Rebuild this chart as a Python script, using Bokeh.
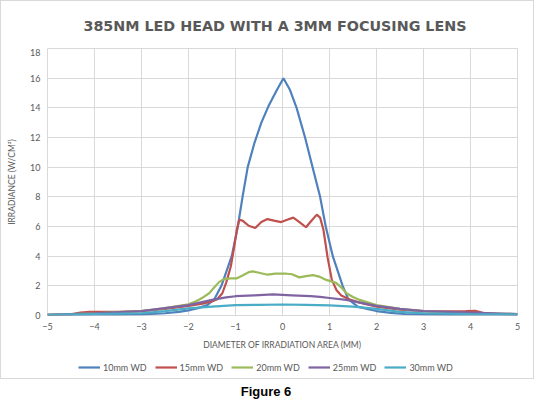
from bokeh.plotting import figure
from bokeh.layouts import column
from bokeh.models import Legend, LegendItem, FixedTicker, Div
from bokeh.embed import file_html
from bokeh.resources import INLINE

# diameter (mm) / irradiance (W/cm2), one pair per working distance
x10 = [-5, -4.5, -4, -3.5, -3, -2.5, -2.2, -2, -1.8, -1.6, -1.45, -1.3, -1.08, -0.95,
       -0.85, -0.74, -0.6, -0.45, -0.3, -0.12, 0.02, 0.16, 0.3, 0.48, 0.64, 0.8, 0.92,
       1.07, 1.28, 1.4, 1.6, 1.8, 2, 2.3, 2.6, 3, 3.5, 4, 4.5, 5]
y10 = [0.03, 0.04, 0.05, 0.05, 0.07, 0.15, 0.25, 0.35, 0.5, 0.7, 1.1, 2.0, 4.0, 6.0,
       8.0, 10.0, 11.6, 13.0, 14.1, 15.2, 16.0, 15.2, 14.0, 12.0, 10.0, 8.0, 6.0,
       4.0, 2.0, 1.1, 0.6, 0.45, 0.3, 0.18, 0.1, 0.07, 0.05, 0.05, 0.05, 0.05]

x15 = [-5, -4.5, -4.3, -4.1, -3.5, -3, -2.5, -2, -1.7, -1.5, -1.39, -1.28, -1.2, -1.1,
       -1.03, -0.97, -0.92, -0.85, -0.72, -0.58, -0.45, -0.32, -0.18, -0.03, 0.1, 0.23,
       0.36, 0.5, 0.62, 0.73, 0.8, 0.87, 0.96, 1.05, 1.15, 1.25, 1.42, 1.6, 2, 2.5, 3,
       3.5, 3.9, 4.1, 4.3, 4.6, 5]
y15 = [0.05, 0.08, 0.2, 0.25, 0.25, 0.3, 0.45, 0.65, 0.8, 0.95, 1.1, 1.5, 2.2, 3.3,
       4.6, 5.8, 6.45, 6.4, 6.05, 5.9, 6.3, 6.5, 6.4, 6.3, 6.45, 6.6,
       6.3, 5.95, 6.4, 6.8, 6.6, 5.8, 3.9, 2.4, 1.7, 1.35, 1.1, 0.9, 0.6, 0.4, 0.3,
       0.28, 0.3, 0.32, 0.15, 0.1, 0.08]

x20 = [-5, -4, -3, -2.5, -2, -1.85, -1.7, -1.56, -1.45, -1.35, -1.25, -1.1, -0.98,
       -0.85, -0.72, -0.63, -0.5, -0.32, -0.15, 0.05, 0.2, 0.36, 0.5, 0.65, 0.8, 0.93,
       1.14, 1.25, 1.36, 1.5, 1.64, 2, 2.5, 3, 4, 5]
y20 = [0.05, 0.15, 0.3, 0.5, 0.75, 0.95, 1.2, 1.5, 1.9, 2.25, 2.45, 2.5, 2.5,
       2.7, 2.92, 2.97, 2.88, 2.75, 2.82, 2.83, 2.78, 2.57, 2.65, 2.72, 2.6, 2.4,
       2.2, 1.9, 1.5, 1.25, 1.05, 0.7, 0.45, 0.3, 0.15, 0.1]

x25 = [-5, -4, -3, -2.5, -2, -1.5, -1.2, -1, -0.6, -0.2, 0.2, 0.6, 0.8, 1, 1.36, 1.6,
       2, 2.5, 3, 4, 5]
y25 = [0.05, 0.15, 0.3, 0.5, 0.7, 1.05, 1.22, 1.3, 1.36, 1.42, 1.36, 1.3, 1.25, 1.18,
       1.05, 0.9, 0.65, 0.45, 0.3, 0.2, 0.1]

x30 = [-5, -4, -3, -2.5, -2, -1.5, -1, -0.5, 0, 0.5, 1, 1.5, 2, 2.5, 3, 4, 5]
y30 = [0.05, 0.1, 0.15, 0.3, 0.48, 0.6, 0.7, 0.72, 0.74, 0.72, 0.68, 0.6, 0.45, 0.25,
       0.15, 0.1, 0.08]

names = ["10mm WD", "15mm WD", "20mm WD", "25mm WD", "30mm WD"]
colors = ["#4F81BD", "#C0504D", "#9BBB59", "#8064A2", "#4BACC6"]
series = [(x10, y10), (x15, y15), (x20, y20), (x25, y25), (x30, y30)]

x_ticks = [-5, -4, -3, -2, -1, 0, 1, 2, 3, 4, 5]
y_ticks = [0, 2, 4, 6, 8, 10, 12, 14, 16, 18]

GRAY = "#595959"
GRID = "#d9d9d9"

# chart title as a div so it can sit a little off the frame centre, like the original
head = Div(text="385NM LED HEAD WITH A 3MM FOCUSING LENS", width=522, height=37,
           styles={"font-family": "DejaVu Sans, sans-serif", "font-weight": "bold",
                   "font-size": "14.3px", "color": GRAY, "text-align": "center",
                   "line-height": "40px", "text-indent": "16px",
                   "white-space": "nowrap"})

p = figure(width=522, height=304, x_range=(-5, 5), y_range=(0, 18),
           output_backend="svg", toolbar_location=None)
p.min_border_left = 46
p.min_border_right = 6
p.min_border_top = 0
p.min_border_bottom = 0
p.outline_line_color = GRID

for (xs, ys), col in zip(series, colors):
    p.line(xs, ys, line_color=col, line_width=2.2)

p.xaxis.ticker = FixedTicker(ticks=x_ticks)
p.yaxis.ticker = FixedTicker(ticks=y_ticks)
p.xgrid.ticker = FixedTicker(ticks=x_ticks)
p.ygrid.ticker = FixedTicker(ticks=y_ticks)
p.grid.grid_line_color = GRID
p.grid.grid_line_width = 1

for ax in (p.xaxis, p.yaxis):
    ax.axis_line_color = None
    ax.major_tick_line_color = None
    ax.minor_tick_line_color = None
    ax.major_tick_out = 0
    ax.major_tick_in = 0
    ax.minor_tick_out = 0
    ax.major_label_text_color = GRAY
    ax.major_label_text_font = "Lato"
    ax.major_label_text_font_size = "9px"
    ax.axis_label_text_color = GRAY
    ax.axis_label_text_font = "Lato"
    ax.axis_label_text_font_size = "8.5px"
    ax.axis_label_text_font_style = "normal"

p.xaxis.axis_label = "DIAMETER OF IRRADIATION AREA (MM)"
p.yaxis.axis_label = "IRRADIANCE (W/CM²)"
p.xaxis.major_label_standoff = 7
p.yaxis.major_label_standoff = 7
p.xaxis.axis_label_standoff = 7
p.yaxis.axis_label_standoff = 10

# legend strip: a side-panel legend collapses the frame, so it gets its own figure
# (same series drawn there, range kept above the data so only the key shows)
leg = figure(width=522, height=26, x_range=(-5, 5), y_range=(100, 101),
             x_axis_type=None, y_axis_type=None,
             output_backend="svg", toolbar_location=None)
leg.min_border = 0
leg.outline_line_color = None
leg.grid.visible = False
items = []
for (xs, ys), name, col in zip(series, names, colors):
    r = leg.line(xs, ys, line_color=col, line_width=2.2)
    items.append(LegendItem(label=name, renderers=[r]))

legend = Legend(items=items, orientation="horizontal", location=(31, 4),
                label_text_font="Lato", label_text_font_size="9px",
                label_text_color=GRAY, glyph_width=22, glyph_height=14,
                label_height=14, label_standoff=3, spacing=8, padding=4,
                margin=0, border_line_color=None, background_fill_alpha=0)
leg.add_layout(legend)

box = column(head, p, leg, styles={"border": "1px solid #d9d9d9"})

caption = Div(text="Figure 6", width=522, height=15,
              styles={"font-family": "Liberation Sans, Arial, sans-serif",
                      "font-weight": "bold", "font-size": "13px",
                      "text-align": "center", "line-height": "15px",
                      "color": "#000", "margin-left": "5px"})

page = column(box, caption)
open("out.html", "w").write(file_html(page, INLINE))
